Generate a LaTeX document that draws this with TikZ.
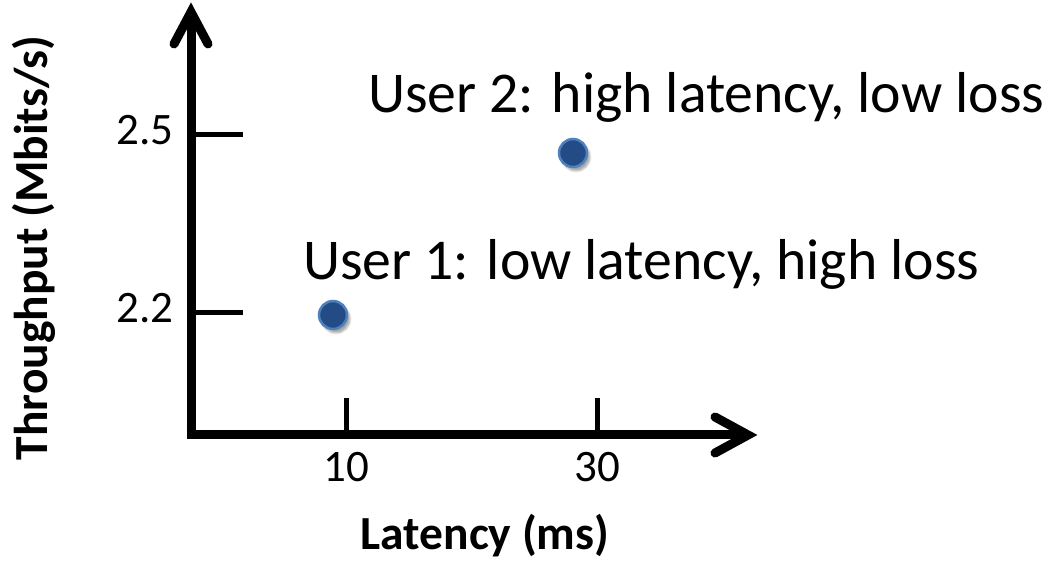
\documentclass[tikz,border=0pt]{standalone}
\usepackage{fontspec}
\setmainfont{Carlito}
\usetikzlibrary{calc,shadows.blur}
\definecolor{dotfill}{RGB}{35,76,135}
\definecolor{dotedge}{RGB}{79,129,189}
\tikzset{
  axisline/.style={line width=9pt, line cap=round, line join=miter},
  tickline/.style={line width=5pt},
  userdot/.style={circle, minimum size=28pt, inner sep=0pt, fill=dotfill, draw=dotedge, line width=2.5pt,
    blur shadow={shadow xshift=3pt, shadow yshift=-4pt, shadow blur steps=6, shadow opacity=35}},
  bigtext/.style={inner sep=0pt, font=\fontsize{57.7}{62}\selectfont},
  ticktext/.style={inner sep=0pt, font=\fontsize{45}{50}\selectfont},
  axistext/.style={inner sep=0pt, font=\fontsize{47.5}{52}\selectfont\bfseries},
}
\begin{document}
\begin{tikzpicture}[x=1pt,y=1pt]
\useasboundingbox (0,0) rectangle (1050,561);
\coordinate (O) at (191,126);
\coordinate (ytip) at (191,549);
\coordinate (xtip) at (748,126);
\coordinate (ya1) at ($(ytip)+(-17,-32)$);
\coordinate (ya2) at ($(ytip)+(17,-32)$);
\coordinate (xa1) at ($(xtip)+(-33,18)$);
\coordinate (xa2) at ($(xtip)+(-33,-18)$);
% axes
\draw[axisline, line cap=butt] (ytip) -- (191,121.5) (186.5,126) -- (xtip);
\draw[axisline] (ya1) -- (ytip) -- (ya2);
\draw[axisline] (xa1) -- (xtip) -- (xa2);
% ticks
\coordinate (yt1) at (191,426); \coordinate (yt1e) at (243,426);
\coordinate (yt2) at (191,248); \coordinate (yt2e) at (243,248);
\coordinate (xt1) at (346,126); \coordinate (xt1e) at (346,163);
\coordinate (xt2) at (597,126); \coordinate (xt2e) at (597,163);
\draw[tickline] (yt1) -- (yt1e);
\draw[tickline] (yt2) -- (yt2e);
\draw[tickline] (xt1) -- (xt1e);
\draw[tickline] (xt2) -- (xt2e);
% tick labels
\node[ticktext, anchor=base east] (l25) at (174,416) {2.5};
\node[ticktext, anchor=base east] (l22) at (174,238) {2.2};
\node[ticktext, anchor=base] (l10) at (346,79) {10};
\node[ticktext, anchor=base] (l30) at (597,79) {30};
% axis labels
\node[axistext, anchor=base] (xlab) at (485,11) {Latency (ms)};
\node[axistext, anchor=base, rotate=90] (ylab) at (47,313) {Throughput (Mbits/s)};
% dots
\node[userdot] (u1) at (333,246) {};
\node[userdot] (u2) at (573,408) {};
% labels
\node[bigtext, anchor=base west] (t2) at (368,448) {User 2: high latency, low loss};
\node[bigtext, anchor=base west] (t1) at (303,281) {User 1: low latency, high loss};
\end{tikzpicture}
\end{document}
